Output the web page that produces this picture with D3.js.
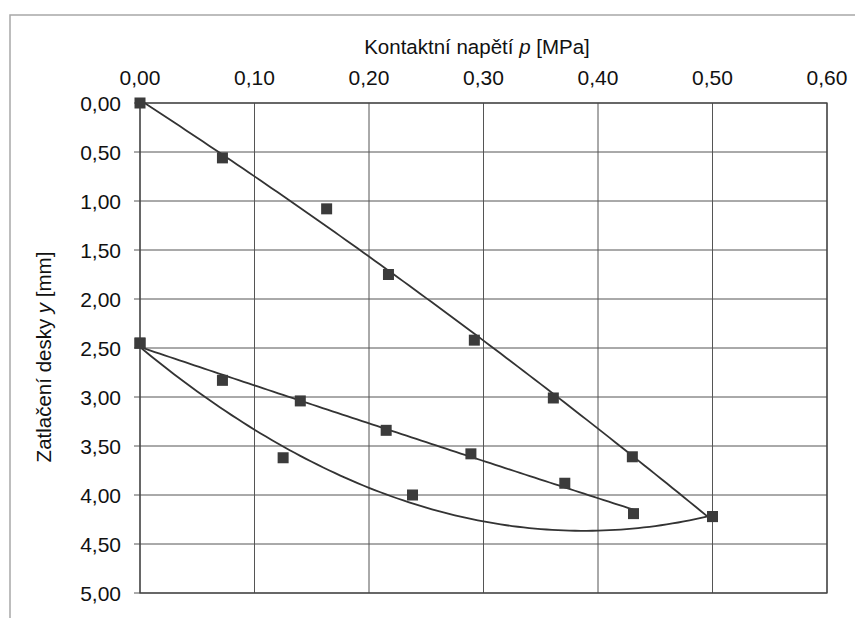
<!DOCTYPE html>
<html><head><meta charset="utf-8">
<script src="https://cdn.jsdelivr.net/npm/d3@7"></script>
<style>
html,body{margin:0;padding:0;background:#fff;}
svg{display:block;font-family:"Liberation Sans",Arial,sans-serif;}
</style></head>
<body>
<svg id="chart" width="855" height="618"></svg>
<script>
// Loading branch (zatěžování)
const loadX = [0, 0.072, 0.163, 0.217, 0.292, 0.361, 0.430, 0.500];
const loadY = [0, 0.56, 1.08, 1.75, 2.42, 3.01, 3.61, 4.22];
// Unloading branch (odlehčení)
const unloadX = [0.500, 0.238, 0.125, 0];
const unloadY = [4.22, 4.00, 3.62, 2.45];
// Reloading branch (opakované zatížení)
const reloadX = [0, 0.072, 0.140, 0.215, 0.289, 0.371, 0.431];
const reloadY = [2.45, 2.83, 3.04, 3.34, 3.58, 3.88, 4.19];

const xTicks = [0, 0.1, 0.2, 0.3, 0.4, 0.5, 0.6];
const yTicks = [0, 0.5, 1, 1.5, 2, 2.5, 3, 3.5, 4, 4.5, 5];

const svg = d3.select("#chart");
const L = 140, R = 827, T = 103, B = 593;
const x = d3.scaleLinear().domain([0, 0.6]).range([L, R]);
const y = d3.scaleLinear().domain([0, 5]).range([T, B]);
const loc = d3.formatLocale({decimal: ",", thousands: " ", grouping: [3], currency: ["", ""]});
const fmt = loc.format(".2f");

// outer chart frame
svg.append("rect").attr("x", 10).attr("y", 15).attr("width", 900).attr("height", 700)
  .attr("fill", "none").attr("stroke", "#a8a8a8").attr("stroke-width", 1.5);

// gridlines
svg.append("g").selectAll("line").data(xTicks).join("line")
  .attr("x1", d => x(d)).attr("x2", d => x(d)).attr("y1", T).attr("y2", B)
  .attr("stroke", "#555").attr("stroke-width", 1);
svg.append("g").selectAll("line").data(yTicks).join("line")
  .attr("x1", L - 6).attr("x2", R).attr("y1", d => y(d)).attr("y2", d => y(d))
  .attr("stroke", "#555").attr("stroke-width", 1);
svg.append("rect").attr("x", L).attr("y", T).attr("width", R - L).attr("height", B - T)
  .attr("fill", "none").attr("stroke", "#444").attr("stroke-width", 1.3);

// top axis labels
svg.append("g").selectAll("text").data(xTicks).join("text")
  .attr("x", d => x(d)).attr("y", 85).attr("text-anchor", "middle")
  .attr("font-size", 21).attr("fill", "#111").text(d => fmt(d));
// left axis labels
svg.append("g").selectAll("text").data(yTicks).join("text")
  .attr("x", 121).attr("y", d => y(d) + 7.5).attr("text-anchor", "end")
  .attr("font-size", 21).attr("fill", "#111").text(d => fmt(d));

// titles
const tx = svg.append("text").attr("x", 477).attr("y", 54).attr("text-anchor", "middle")
  .attr("font-size", 20.5).attr("fill", "#111");
tx.append("tspan").text("Kontaktní napětí ");
tx.append("tspan").attr("font-style", "italic").text("p");
tx.append("tspan").text(" [MPa]");

const ty = svg.append("text").attr("transform", "translate(51,357) rotate(-90)")
  .attr("text-anchor", "middle").attr("font-size", 20.5).attr("fill", "#111");
ty.append("tspan").text("Zatlačení desky ");
ty.append("tspan").attr("font-style", "italic").text("y");
ty.append("tspan").text(" [mm]");

// polynomial (quadratic) least-squares trendline
function quadFit(xs, ys) {
  const n = xs.length;
  let s = [0,0,0,0,0], t = [0,0,0];
  for (let i = 0; i < n; i++) {
    const xi = xs[i], yi = ys[i];
    for (let k = 0; k < 5; k++) s[k] += Math.pow(xi, k);
    for (let k = 0; k < 3; k++) t[k] += yi * Math.pow(xi, k);
  }
  const A = [[s[0], s[1], s[2], t[0]], [s[1], s[2], s[3], t[1]], [s[2], s[3], s[4], t[2]]];
  for (let i = 0; i < 3; i++) {
    for (let j = i + 1; j < 3; j++) {
      const f = A[j][i] / A[i][i];
      for (let k = i; k < 4; k++) A[j][k] -= f * A[i][k];
    }
  }
  const c = [0, 0, 0];
  for (let i = 2; i >= 0; i--) {
    let v = A[i][3];
    for (let k = i + 1; k < 3; k++) v -= A[i][k] * c[k];
    c[i] = v / A[i][i];
  }
  return v => c[0] + c[1] * v + c[2] * v * v;
}

const line = d3.line().x(d => x(d[0])).y(d => y(d[1]));
function trend(xs, ys) {
  const f = quadFit(xs, ys);
  const lo = d3.min(xs), hi = d3.max(xs);
  const pts = d3.range(0, 101).map(i => { const v = lo + (hi - lo) * i / 100; return [v, f(v)]; });
  svg.append("path").attr("d", line(pts)).attr("fill", "none")
    .attr("stroke", "#333").attr("stroke-width", 1.8);
}
trend(loadX, loadY);
trend(unloadX, unloadY);
trend(reloadX, reloadY);

function markers(xs, ys) {
  const s = 11;
  svg.append("g").selectAll("rect").data(xs.map((v, i) => [v, ys[i]])).join("rect")
    .attr("x", d => x(d[0]) - s / 2).attr("y", d => y(d[1]) - s / 2)
    .attr("width", s).attr("height", s).attr("fill", "#3b3b3b");
}
markers(loadX, loadY);
markers(unloadX, unloadY);
markers(reloadX, reloadY);
</script>
</body></html>
